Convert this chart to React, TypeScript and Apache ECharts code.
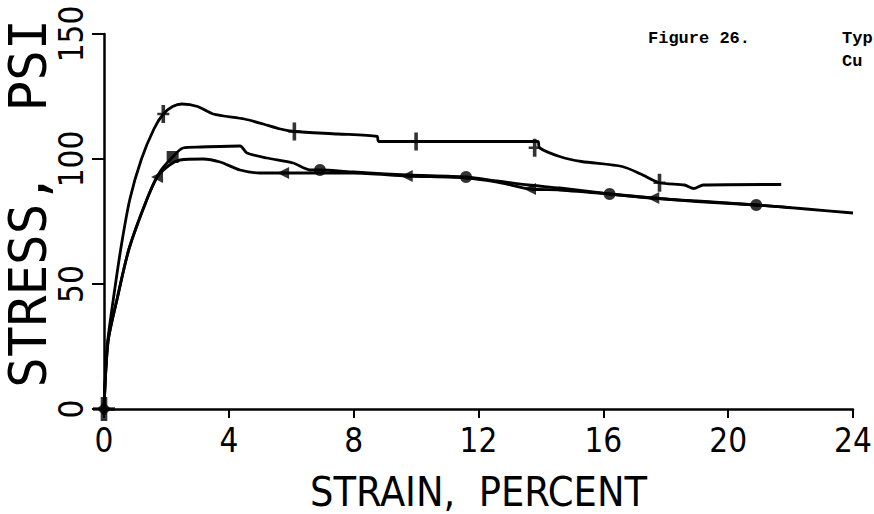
import React, { useEffect, useRef } from "react";
import * as echarts from "echarts";

// Curve A (top, "+" markers)
const strainA = [0, 0.1, 0.3, 0.55, 0.83, 1.2, 1.6, 1.9, 2.2, 2.5, 3.0, 3.5, 4.5, 5.1, 5.65, 6.1, 7.5, 8.75, 8.8, 13.9, 13.95, 14.6, 15.3, 16.6, 17.2, 17.8, 18.6, 18.9, 19.2, 21.7];
const stressA = [0, 25, 44, 65, 84, 100, 112, 118, 121, 122, 121, 118, 116, 114, 112, 111, 110, 109, 107, 107, 104.5, 101, 99, 97, 94, 90.5, 89.6, 88.2, 89.6, 89.8];
// Curve B (square then circle markers)
const strainB = [0, 0.13, 0.42, 0.8, 1.38, 1.8, 2.2, 2.53, 3.1, 4.36, 4.58, 5.22, 6.06, 6.6, 6.92, 8, 9.7, 11.6, 12.6, 13.6, 14.6, 16.2, 17.5, 19, 20.9, 22.5, 24];
const stressB = [0, 27, 44, 64, 84, 95, 100.8, 104.4, 104.8, 105.2, 102.4, 100.4, 98.4, 95.6, 95.6, 94.8, 93.6, 92.8, 91.2, 89.6, 88.4, 86, 84.4, 83.2, 81.6, 80, 78.4];
// Curve C (left-pointing triangle markers)
const strainC = [0, 0.13, 0.42, 0.8, 1.38, 1.7, 2.1, 2.44, 3.17, 3.72, 4.36, 5.0, 5.74, 6.6, 8, 9.7, 11.6, 12.6, 13.65, 14.6, 16.2, 17.6, 19, 20.9, 22];
const stressC = [0, 27, 44, 64, 84, 92.8, 97.6, 99.6, 100, 98.8, 95.6, 94.4, 94.4, 94.4, 94.4, 93.2, 92.4, 90.8, 88.0, 87.6, 86, 84.4, 83, 81.6, 80.5];

// Marker positions
const markStrainA = [1.9, 6.1, 10.0, 13.8, 17.8];
const markStressA = [118, 111, 107, 104.5, 90.5];
const squareStrainB = [2.2];
const squareStressB = [100.8];
const markStrainB = [6.92, 11.6, 16.2, 20.9];
const markStressB = [95.6, 92.8, 86, 81.6];
const markStrainC = [1.7, 5.74, 9.7, 13.65, 17.6];
const markStressC = [92.8, 94.4, 93.2, 88.0, 84.4];

const xTicks = [0, 4, 8, 12, 16, 20, 24];
const yTicks = [0, 50, 100, 150];

const xName = "STRAIN,  PERCENT";
const yName = "STRESS,  PSI";
const titleLine1a = "Figure 26.";
const titleLine1b = "Typ";
const titleLine2 = "Cu";

const pairs = (xs: number[], ys: number[]) => xs.map((x, i) => [x, ys[i]]);

const PLOT_FONT = "'DejaVu Sans Condensed', 'Liberation Sans Narrow', 'DejaVu Sans Mono', monospace";
const MONO_FONT = "'DejaVu Sans Mono', monospace";

export default function App() {
  const ref = useRef<HTMLDivElement>(null);
  useEffect(() => {
    document.body.style.margin = "0";
    if (!ref.current) return;
    const chart = echarts.init(ref.current, undefined, { renderer: "svg" });
    const lineStyle = { color: "#000", width: 2.8 };
    const plus = "path://M3.5,0H6.5V8.5H10V11.5H6.5V20H3.5V11.5H0V8.5H3.5Z";
    const titleFont = "bold 17px 'Liberation Mono', monospace";
    chart.setOption({
      animation: false,
      backgroundColor: "#fff",
      grid: { left: 104, right: 21, top: 34, bottom: 105, containLabel: false, outerBoundsMode: "none" },
      xAxis: {
        type: "value",
        min: 0,
        max: 24,
        interval: 4,
        splitLine: { show: false },
        axisLine: { lineStyle: { color: "#000", width: 2.5 } },
        axisTick: { length: 9, lineStyle: { color: "#000", width: 2 } },
        axisLabel: {
          color: "#000",
          fontFamily: PLOT_FONT,
          fontSize: 33,
          margin: 15,
          formatter: (v: number) => (xTicks.includes(v) ? String(v) : ""),
        },
        name: xName,
        nameLocation: "middle",
        nameGap: 62,
        nameMoveOverlap: false,
        nameTextStyle: { color: "#000", fontFamily: PLOT_FONT, fontSize: 41 },
      },
      yAxis: {
        type: "value",
        min: 0,
        max: 150,
        interval: 50,
        splitLine: { show: false },
        axisLine: { lineStyle: { color: "#000", width: 2.5 } },
        axisTick: { length: 12, lineStyle: { color: "#000", width: 2 } },
        axisLabel: {
          color: "#000",
          fontFamily: PLOT_FONT,
          fontSize: 33,
          rotate: 90,
          margin: 16,
          formatter: (v: number) => (yTicks.includes(v) ? String(v) : ""),
        },
        name: yName,
        nameLocation: "middle",
        nameGap: 50,
        nameMoveOverlap: false,
        nameTextStyle: { color: "#000", fontFamily: MONO_FONT, fontSize: 51, padding: [0, 0, 0, 36] },
      },
      graphic: [
        { type: "text", left: 648, top: 30, style: { text: titleLine1a, font: titleFont, fill: "#000" } },
        { type: "text", left: 842, top: 30, style: { text: titleLine1b, font: titleFont, fill: "#000" } },
        { type: "text", left: 842, top: 53, style: { text: titleLine2, font: titleFont, fill: "#000" } },
      ],
      series: [
        { type: "line", data: pairs(strainA, stressA), showSymbol: false, smooth: 0.25, lineStyle },
        { type: "line", data: pairs(strainB, stressB), showSymbol: false, smooth: 0.25, lineStyle },
        { type: "line", data: pairs(strainC, stressC), showSymbol: false, smooth: 0.25, lineStyle },
        { type: "scatter", data: pairs(markStrainA, markStressA), symbol: plus, symbolSize: [12, 18], itemStyle: { color: "#000" } },
        { type: "scatter", data: pairs(squareStrainB, squareStressB), symbol: "rect", symbolSize: 12, itemStyle: { color: "#000" } },
        { type: "scatter", data: pairs(markStrainB, markStressB), symbol: "circle", symbolSize: 12, itemStyle: { color: "#000" } },
        { type: "scatter", data: pairs(markStrainC, markStressC), symbol: "triangle", symbolRotate: 90, symbolSize: 12, itemStyle: { color: "#000" } },
        { type: "scatter", data: [[0, 0]], symbol: "diamond", symbolSize: 14, itemStyle: { color: "#000" } },
        { type: "scatter", data: [[0, 0]], symbol: plus, symbolSize: [22, 24], itemStyle: { color: "#000" } },
      ],
    });
    return () => chart.dispose();
  }, []);
  return <div ref={ref} style={{ width: 874, height: 514 }} />;
}
